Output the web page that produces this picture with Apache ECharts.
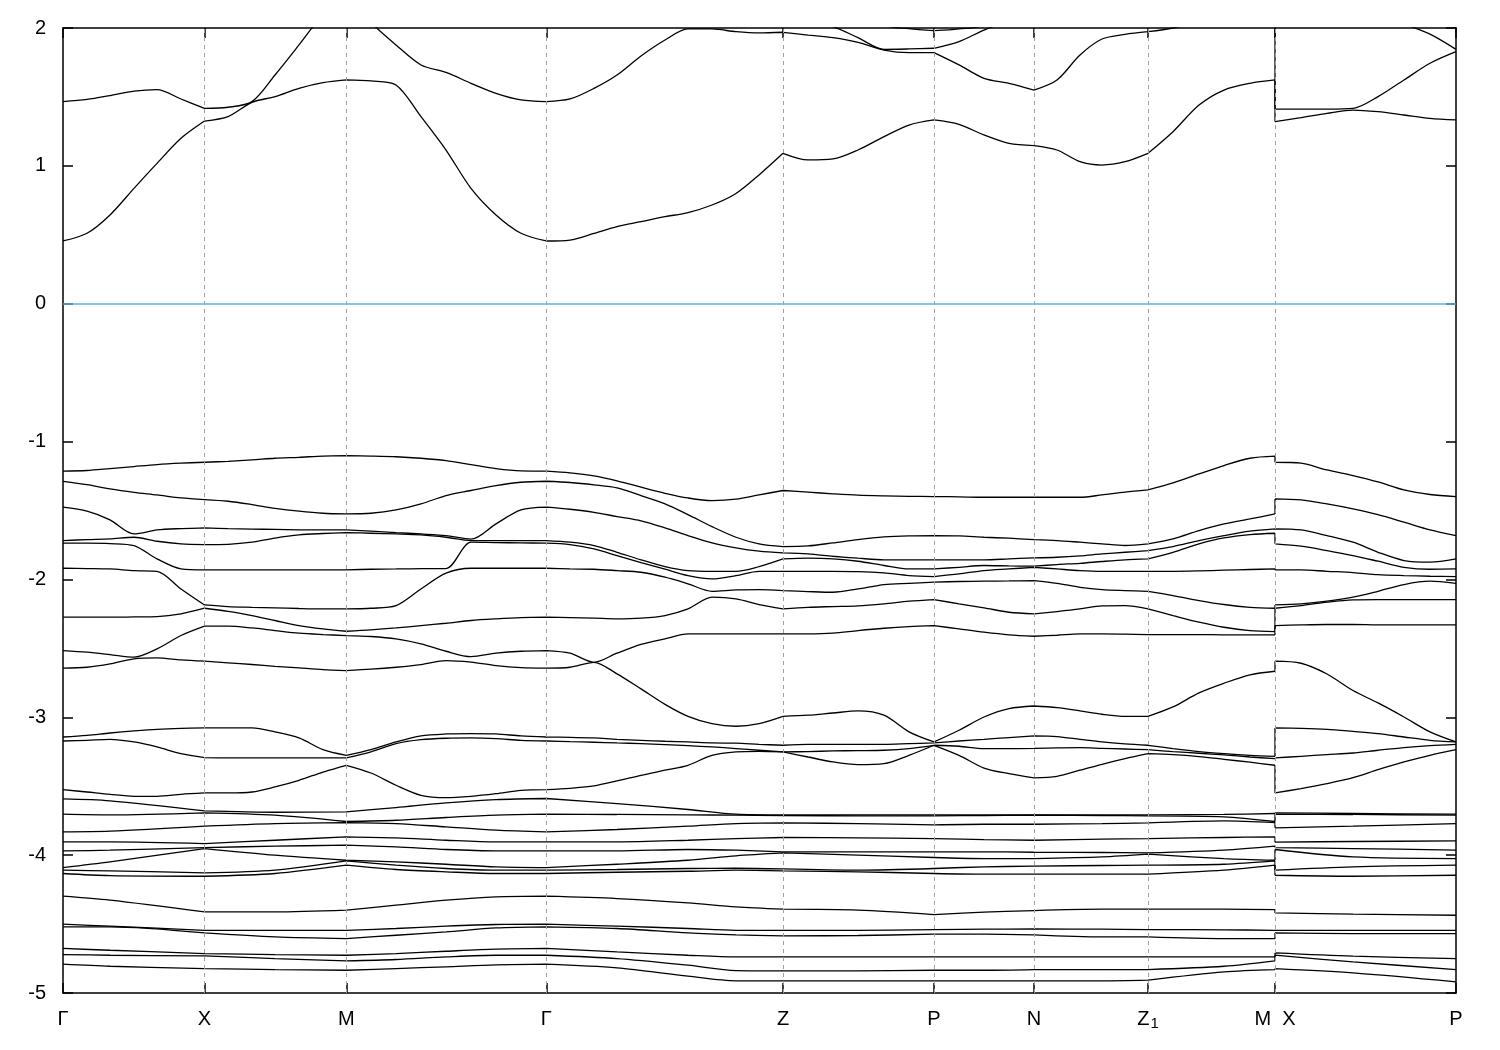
<!DOCTYPE html>
<html><head><meta charset="utf-8">
<script src="https://cdn.jsdelivr.net/npm/echarts@6/dist/echarts.min.js"></script>
<style>html,body{margin:0;padding:0;background:#fff}#c{width:1500px;height:1050px}</style>
</head><body><div id="c"></div>
<script>
// k-path positions (arbitrary path-length units)
const K_FINE = [0,24,47,71,94,118,141.5,165,189,212,236,260,283.3,308,333,358,383,408,433,458,483.3,507,531,554,578,602,625,649,673,696,720,745,770,795,821,846,871,896,921,946,971,994,1017,1039,1062,1085,1110,1136,1161,1187,1212,1212,1238,1264,1290,1315,1341,1367,1393];
const K_COARSE = [0,47,141.5,212,283.3,333,383,433,483.3,554,625,673,720,795,871,921,971,1039,1085,1161,1212,1212,1290,1393];
// indices of the high-symmetry points inside each k grid (M and X share a position)
const HS_FINE = [0,6,12,20,30,36,40,45,50,51,58];
const HS_COARSE = [0,2,4,8,12,14,16,18,20,21,23];
const KPOINT_POS = [0,141.5,283.3,483.3,720,871,971,1085,1212,1393];
const KPOINT_LABELS = ['Γ','X','M','Γ','Z','P','N','Z1','M  X','P'];
const INNER_KPOINTS = [141.5,283.3,483.3,720,871,971,1085,1212];

// conduction bands (eV), on K_FINE
const CB1 = [0.455,0.511,0.644,0.837,1.018,1.20,1.325,1.357,1.461,1.502,1.562,1.603,1.623,1.616,1.587,1.357,1.115,0.837,0.644,0.511,0.455,
 0.462,0.51,0.559,0.595,0.631,0.661,0.716,0.80,0.934,1.091,
 1.043,1.05,1.115,1.212,1.296,1.333,
 1.301,1.224,1.163,1.147,1.115,1.03,1.006,1.03,1.091,1.248,1.441,1.55,1.599,1.623,
 1.321,1.35,1.381,1.405,1.393,1.369,1.345,1.333];
const CB2 = [1.466,1.482,1.51,1.542,1.553,1.485,1.417,1.425,1.466,1.659,1.877,2.1,2.25,2.04,1.877,1.732,1.678,1.599,1.526,1.478,1.466,
 1.485,1.562,1.659,1.797,1.913,1.993,1.993,1.973,1.964,1.969,
 1.949,1.93,1.896,1.84,1.821,1.821,
 1.732,1.635,1.599,1.55,1.623,1.804,1.92,1.954,1.973,2.0,2.05,2.1,2.15,2.2,
 1.412,1.412,1.412,1.417,1.502,1.623,1.744,1.828];
const CB3 = [2.4,2.4,2.4,2.4,2.4,2.4,2.4,2.4,2.4,2.4,2.4,2.4,2.4,2.4,2.4,2.4,2.4,2.4,2.4,2.4,2.4,
 2.3,2.3,2.3,2.3,2.3,2.3,2.3,2.3,2.3,2.3,
 2.05,2.01,1.93,1.845,1.848,1.853,
 1.901,1.985,2.05,2.1,2.15,2.2,2.2,2.2,2.2,2.2,2.25,2.3,2.3,2.3,
 2.3,2.3,2.3,2.2,2.1,2.03,1.955,1.845];
const CB4 = [2.5,2.5,2.5,2.5,2.5,2.5,2.5,2.5,2.5,2.5,2.5,2.5,2.5,2.5,2.5,2.5,2.5,2.5,2.5,2.5,2.5,
 2.5,2.5,2.5,2.5,2.5,2.5,2.5,2.5,2.5,2.5,
 2.5,2.5,2.5,2.03,1.995,1.981,
 1.993,2.03,2.5,2.5,2.5,2.5,2.5,2.5,2.5,2.5,2.5,2.5,2.5,2.5,
 2.5,2.5,2.5,2.5,2.5,2.5,2.5,2.5];

// upper valence bands (eV), on K_FINE
const VB1 = [-1.215,-1.21,-1.196,-1.181,-1.167,-1.157,-1.150,-1.143,-1.133,-1.121,-1.114,-1.105,-1.102,-1.105,-1.11,-1.121,-1.138,-1.167,-1.196,-1.213,-1.215,
 -1.227,-1.249,-1.285,-1.331,-1.375,-1.409,-1.428,-1.418,-1.387,-1.355,
 -1.367,-1.379,-1.389,-1.394,-1.397,-1.399,
 -1.401,-1.404,-1.404,-1.404,-1.404,-1.404,-1.387,-1.367,-1.351,-1.30,-1.235,-1.174,-1.121,-1.106,
 -1.150,-1.157,-1.206,-1.247,-1.293,-1.351,-1.384,-1.399];
const VB2 = [-1.288,-1.312,-1.343,-1.368,-1.387,-1.409,-1.421,-1.433,-1.457,-1.484,-1.505,-1.52,-1.525,-1.52,-1.496,-1.452,-1.392,-1.355,-1.319,-1.295,-1.288,
 -1.297,-1.314,-1.336,-1.392,-1.452,-1.530,-1.617,-1.694,-1.742,-1.762,
 -1.757,-1.735,-1.711,-1.692,-1.684,-1.682,
 -1.684,-1.694,-1.701,-1.711,-1.718,-1.730,-1.742,-1.754,-1.742,-1.706,-1.646,-1.597,-1.561,-1.525,
 -1.416,-1.423,-1.452,-1.488,-1.530,-1.585,-1.641,-1.682];
const VB3 = [-1.476,-1.505,-1.568,-1.67,-1.641,-1.631,-1.626,-1.632,-1.635,-1.637,-1.64,-1.641,-1.641,-1.65,-1.66,-1.67,-1.682,-1.708,-1.597,-1.496,-1.476,
 -1.491,-1.513,-1.544,-1.575,-1.626,-1.682,-1.735,-1.771,-1.795,-1.808,
 -1.815,-1.832,-1.846,-1.858,-1.858,-1.858,
 -1.858,-1.858,-1.851,-1.844,-1.839,-1.829,-1.815,-1.803,-1.791,-1.762,-1.718,-1.682,-1.650,-1.633,
 -1.633,-1.641,-1.682,-1.730,-1.803,-1.863,-1.875,-1.851];
const VB4 = [-1.718,-1.711,-1.706,-1.694,-1.723,-1.742,-1.747,-1.745,-1.73,-1.70,-1.677,-1.667,-1.66,-1.665,-1.67,-1.677,-1.694,-1.718,-1.718,-1.718,-1.718,
 -1.730,-1.754,-1.803,-1.858,-1.907,-1.936,-1.941,-1.941,-1.907,-1.851,
 -1.846,-1.851,-1.868,-1.899,-1.924,-1.924,
 -1.912,-1.899,-1.902,-1.904,-1.892,-1.883,-1.870,-1.858,-1.851,-1.803,-1.742,-1.699,-1.675,-1.665,
 -1.742,-1.759,-1.791,-1.827,-1.868,-1.912,-1.926,-1.924];
const VB5 = [-1.737,-1.737,-1.74,-1.755,-1.851,-1.924,-1.931,-1.931,-1.931,-1.931,-1.931,-1.931,-1.931,-1.926,-1.924,-1.921,-1.921,-1.73,-1.733,-1.735,-1.737,
 -1.747,-1.779,-1.827,-1.878,-1.926,-1.972,-1.996,-1.972,-1.941,-1.941,
 -1.941,-1.941,-1.943,-1.953,-1.972,-1.979,
 -1.960,-1.936,-1.924,-1.912,-1.924,-1.936,-1.941,-1.941,-1.941,-1.941,-1.938,-1.933,-1.928,-1.924,
 -1.931,-1.931,-1.941,-1.950,-1.965,-1.972,-1.977,-1.979];
const VB6 = [-1.919,-1.921,-1.924,-1.936,-1.941,-2.069,-2.185,-2.197,-2.202,-2.206,-2.211,-2.214,-2.214,-2.209,-2.19,-2.069,-1.955,-1.919,-1.919,-1.919,-1.919,
 -1.924,-1.926,-1.936,-1.948,-1.984,-2.032,-2.086,-2.076,-2.074,-2.081,
 -2.088,-2.093,-2.069,-2.037,-2.028,-2.02,
 -2.015,-2.013,-2.011,-2.008,-2.028,-2.057,-2.074,-2.081,-2.086,-2.117,-2.153,-2.182,-2.202,-2.209,
 -2.185,-2.177,-2.158,-2.129,-2.086,-2.037,-2.013,-2.028];
const VB7 = [-2.274,-2.274,-2.274,-2.272,-2.27,-2.25,-2.209,-2.231,-2.262,-2.298,-2.335,-2.359,-2.376,-2.366,-2.352,-2.335,-2.318,-2.298,-2.286,-2.277,-2.274,
 -2.277,-2.281,-2.286,-2.281,-2.262,-2.214,-2.129,-2.141,-2.182,-2.214,
 -2.202,-2.197,-2.192,-2.177,-2.158,-2.146,
 -2.177,-2.206,-2.238,-2.25,-2.233,-2.214,-2.192,-2.19,-2.214,-2.262,-2.31,-2.347,-2.371,-2.378,
 -2.209,-2.19,-2.165,-2.148,-2.146,-2.146,-2.146,-2.146];
const VB8 = [-2.516,-2.528,-2.545,-2.564,-2.504,-2.407,-2.339,-2.339,-2.352,-2.371,-2.39,-2.40,-2.407,-2.414,-2.431,-2.467,-2.521,-2.56,-2.535,-2.521,-2.516,
 -2.535,-2.601,-2.535,-2.472,-2.431,-2.395,-2.395,-2.395,-2.395,-2.395,
 -2.395,-2.39,-2.371,-2.354,-2.342,-2.335,
 -2.359,-2.383,-2.402,-2.412,-2.405,-2.395,-2.395,-2.397,-2.40,-2.40,-2.40,-2.402,-2.402,-2.402,
 -2.335,-2.33,-2.327,-2.327,-2.33,-2.33,-2.33,-2.33];
const VB9 = [-2.644,-2.637,-2.613,-2.576,-2.569,-2.584,-2.593,-2.605,-2.617,-2.63,-2.642,-2.654,-2.661,-2.651,-2.637,-2.618,-2.589,-2.60,-2.625,-2.64,-2.644,
 -2.637,-2.601,-2.685,-2.794,-2.906,-2.993,-3.046,-3.065,-3.046,-2.993,
 -2.985,-2.969,-2.954,-2.985,-3.106,-3.179,
 -3.094,-2.998,-2.937,-2.918,-2.93,-2.954,-2.978,-2.993,-2.993,-2.925,-2.823,-2.753,-2.692,-2.666,
 -2.593,-2.608,-2.686,-2.806,-2.896,-2.998,-3.106,-3.179];
const VB10 = [-3.143,-3.131,-3.114,-3.099,-3.087,-3.080,-3.077,-3.077,-3.077,-3.106,-3.150,-3.235,-3.276,-3.235,-3.179,-3.135,-3.121,-3.118,-3.121,-3.135,-3.143,
 -3.145,-3.150,-3.160,-3.167,-3.174,-3.179,-3.186,-3.188,-3.196,-3.203,
 -3.196,-3.196,-3.196,-3.196,-3.191,-3.186,
 -3.172,-3.160,-3.147,-3.135,-3.140,-3.160,-3.179,-3.193,-3.203,-3.227,-3.249,-3.264,-3.276,-3.283,
 -3.077,-3.080,-3.087,-3.102,-3.118,-3.143,-3.167,-3.179];
const VB11 = [-3.172,-3.167,-3.160,-3.179,-3.215,-3.264,-3.293,-3.295,-3.295,-3.295,-3.295,-3.295,-3.295,-3.251,-3.191,-3.162,-3.152,-3.150,-3.155,-3.167,-3.172,
 -3.177,-3.181,-3.186,-3.191,-3.198,-3.206,-3.215,-3.227,-3.239,-3.251,
 -3.249,-3.244,-3.242,-3.239,-3.227,-3.203,
 -3.210,-3.227,-3.227,-3.225,-3.222,-3.220,-3.225,-3.230,-3.235,-3.249,-3.261,-3.273,-3.288,-3.300,
 -3.295,-3.283,-3.271,-3.259,-3.239,-3.220,-3.206,-3.196];
const VB12 = [-3.525,-3.542,-3.559,-3.573,-3.573,-3.559,-3.549,-3.549,-3.542,-3.505,-3.457,-3.397,-3.348,-3.404,-3.493,-3.566,-3.583,-3.573,-3.554,-3.530,-3.525,
 -3.515,-3.498,-3.462,-3.421,-3.384,-3.348,-3.276,-3.251,-3.247,-3.251,
 -3.288,-3.324,-3.343,-3.336,-3.276,-3.203,
 -3.276,-3.368,-3.409,-3.440,-3.428,-3.384,-3.341,-3.300,-3.264,-3.271,-3.285,-3.305,-3.326,-3.348,
 -3.549,-3.517,-3.481,-3.438,-3.380,-3.324,-3.276,-3.235];

// lower valence bands (eV), on K_COARSE
const VB13 = [-3.592,-3.606,-3.679,-3.689,-3.686,-3.655,-3.621,-3.597,-3.589,-3.626,-3.669,-3.703,-3.708,-3.708,-3.708,-3.708,-3.708,-3.708,-3.708,-3.705,-3.698,-3.693,-3.698,-3.703];
const VB14 = [-3.703,-3.708,-3.693,-3.710,-3.756,-3.747,-3.727,-3.710,-3.703,-3.705,-3.708,-3.710,-3.713,-3.715,-3.715,-3.713,-3.710,-3.713,-3.715,-3.722,-3.756,-3.703,-3.705,-3.710];
const VB15 = [-3.831,-3.826,-3.790,-3.771,-3.764,-3.771,-3.795,-3.819,-3.831,-3.814,-3.790,-3.771,-3.766,-3.771,-3.780,-3.776,-3.776,-3.771,-3.766,-3.751,-3.764,-3.802,-3.790,-3.771];
const VB16 = [-3.904,-3.904,-3.916,-3.892,-3.867,-3.875,-3.892,-3.904,-3.904,-3.904,-3.892,-3.880,-3.872,-3.875,-3.880,-3.887,-3.892,-3.884,-3.880,-3.872,-3.867,-3.906,-3.901,-3.897];
const VB17 = [-3.969,-3.964,-3.945,-3.935,-3.928,-3.940,-3.959,-3.969,-3.969,-3.969,-3.959,-3.964,-3.976,-3.976,-3.976,-3.976,-3.979,-3.981,-3.984,-3.964,-3.935,-3.945,-3.952,-3.964];
const VB18 = [-4.090,-4.049,-3.952,-4.000,-4.037,-4.049,-4.066,-4.085,-4.090,-4.066,-4.037,-4.005,-3.984,-4.000,-4.017,-4.025,-4.025,-4.013,-3.993,-4.025,-4.037,-3.959,-4.013,-4.025];
const VB19 = [-4.109,-4.114,-4.129,-4.109,-4.042,-4.073,-4.097,-4.109,-4.109,-4.104,-4.097,-4.095,-4.100,-4.109,-4.097,-4.085,-4.080,-4.075,-4.073,-4.066,-4.042,-4.109,-4.085,-4.073];
const VB20 = [-4.133,-4.148,-4.153,-4.133,-4.073,-4.104,-4.121,-4.133,-4.133,-4.124,-4.117,-4.109,-4.114,-4.121,-4.133,-4.138,-4.138,-4.138,-4.138,-4.109,-4.073,-4.146,-4.153,-4.146];
const VB21 = [-4.298,-4.327,-4.412,-4.412,-4.399,-4.363,-4.327,-4.303,-4.298,-4.315,-4.346,-4.375,-4.392,-4.399,-4.431,-4.414,-4.402,-4.392,-4.392,-4.392,-4.395,-4.419,-4.428,-4.436];
const VB22 = [-4.501,-4.515,-4.545,-4.545,-4.545,-4.532,-4.515,-4.503,-4.501,-4.515,-4.532,-4.545,-4.545,-4.545,-4.540,-4.537,-4.535,-4.537,-4.540,-4.542,-4.545,-4.545,-4.545,-4.545];
const VB23 = [-4.520,-4.520,-4.564,-4.593,-4.605,-4.581,-4.557,-4.528,-4.520,-4.532,-4.564,-4.578,-4.586,-4.583,-4.573,-4.573,-4.578,-4.593,-4.593,-4.605,-4.605,-4.564,-4.569,-4.569];
const VB24 = [-4.677,-4.690,-4.714,-4.721,-4.726,-4.714,-4.697,-4.682,-4.677,-4.702,-4.726,-4.738,-4.738,-4.738,-4.738,-4.738,-4.738,-4.738,-4.738,-4.738,-4.738,-4.709,-4.733,-4.750];
const VB25 = [-4.721,-4.726,-4.731,-4.750,-4.767,-4.757,-4.738,-4.726,-4.726,-4.750,-4.798,-4.837,-4.839,-4.839,-4.835,-4.835,-4.830,-4.830,-4.830,-4.806,-4.767,-4.726,-4.774,-4.830];
const VB26 = [-4.791,-4.806,-4.823,-4.830,-4.835,-4.823,-4.810,-4.796,-4.791,-4.818,-4.878,-4.912,-4.912,-4.912,-4.912,-4.912,-4.912,-4.912,-4.907,-4.847,-4.830,-4.823,-4.854,-4.919];

const FINE_BANDS = [CB1,CB2,CB3,CB4,VB1,VB2,VB3,VB4,VB5,VB6,VB7,VB8,VB9,VB10,VB11,VB12];
const COARSE_BANDS = [VB13,VB14,VB15,VB16,VB17,VB18,VB19,VB20,VB21,VB22,VB23,VB24,VB25,VB26];

const FONT = '"Liberation Sans", Arial, Helvetica, sans-serif';
const chart = echarts.init(document.getElementById('c'), null, {renderer: 'canvas'});

// one series per band; the path is broken at each high-symmetry point so that
// every segment is smoothed on its own (the M|X step stays a straight segment)
function bandSeries(ks, es, hs) {
  const data = [];
  for (let s = 0; s < hs.length - 1; s++) {
    for (let i = hs[s]; i <= hs[s + 1]; i++) data.push([ks[i], es[i]]);
    if (s < hs.length - 2) data.push([ks[hs[s + 1]], '-']);
  }
  return {
    type: 'line', data: data, connectNulls: false,
    showSymbol: false, symbol: 'none', clip: true, silent: true, z: 3,
    smooth: 0.3,
    lineStyle: {color: '#000', width: 1.3}, animation: false
  };
}

const series = [];
series.push({
  type: 'line', data: [], silent: true, z: 1, animation: false,
  markLine: {
    silent: true, symbol: ['none', 'none'], animation: false, label: {show: false},
    data: INNER_KPOINTS.map(k => ({xAxis: k, lineStyle: {color: '#a0a0a0', type: [4, 4], width: 1}}))
      .concat([{yAxis: 0, lineStyle: {color: '#56b4e9', type: 'solid', width: 1.5}}])
  }
});
FINE_BANDS.forEach(b => series.push(bandSeries(K_FINE, b, HS_FINE)));
COARSE_BANDS.forEach(b => series.push(bandSeries(K_COARSE, b, HS_COARSE)));

const labelMap = {};
KPOINT_POS.forEach((p, i) => { labelMap[p] = KPOINT_LABELS[i]; });

chart.setOption({
  animation: false,
  backgroundColor: '#fff',
  grid: {left: 63, top: 28, width: 1393, height: 965},
  xAxis: [{
    type: 'value', min: 0, max: 1393, position: 'bottom',
    axisLine: {show: true, onZero: false, lineStyle: {color: '#000', width: 1.5}},
    axisTick: {show: true, inside: true, length: 10, customValues: KPOINT_POS, lineStyle: {color: '#000', width: 1.5}},
    splitLine: {show: false},
    axisLabel: {
      show: true, customValues: KPOINT_POS, margin: 15, color: '#000',
      fontFamily: FONT, fontSize: 20, showMinLabel: true, showMaxLabel: true, hideOverlap: false,
      formatter: v => {
        const key = Object.keys(labelMap).find(p => Math.abs(+p - v) < 0.01);
        const t = key !== undefined ? labelMap[key] : '';
        if (t === 'Z1') return '{a|Z}{s|1}';
        return '{a|' + t + '}';
      },
      rich: {
        a: {fontFamily: FONT, fontSize: 20, color: '#000', lineHeight: 22},
        s: {fontFamily: FONT, fontSize: 15, color: '#000', lineHeight: 22, padding: [10, 0, 0, 1]}
      }
    }
  }, {
    type: 'value', min: 0, max: 1393, position: 'top',
    axisLine: {show: true, onZero: false, lineStyle: {color: '#000', width: 1.5}},
    axisTick: {show: true, inside: true, length: 10, customValues: KPOINT_POS, lineStyle: {color: '#000', width: 1.5}},
    axisLabel: {show: false}, splitLine: {show: false}
  }],
  yAxis: [{
    type: 'value', min: -5, max: 2, interval: 1, position: 'left',
    axisLine: {show: true, onZero: false, lineStyle: {color: '#000', width: 1.5}},
    axisTick: {show: true, inside: true, length: 10, lineStyle: {color: '#000', width: 1.5}},
    splitLine: {show: false},
    axisLabel: {show: true, margin: 17, color: '#000', fontFamily: FONT, fontSize: 20}
  }, {
    type: 'value', min: -5, max: 2, interval: 1, position: 'right',
    axisLine: {show: true, onZero: false, lineStyle: {color: '#000', width: 1.5}},
    axisTick: {show: true, inside: true, length: 10, lineStyle: {color: '#000', width: 1.5}},
    splitLine: {show: false}, axisLabel: {show: false}
  }],
  series: series
});
</script>
</body></html>
